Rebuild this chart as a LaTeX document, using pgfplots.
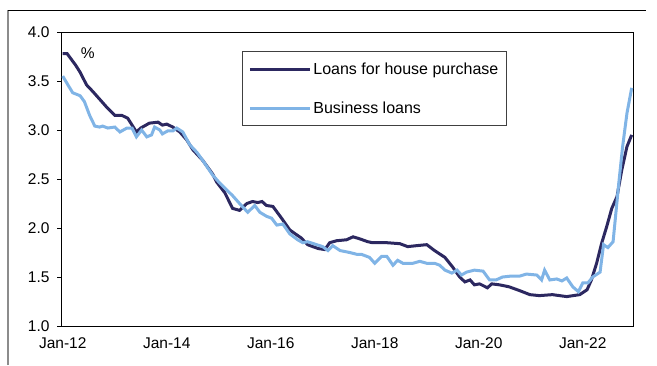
\documentclass[border=0pt]{standalone}
\usepackage{fontspec}
\setmainfont{Liberation Sans}
\usepackage{pgfplots}
\pgfplotsset{compat=1.18}
\definecolor{house}{RGB}{44,40,96}
\definecolor{biz}{RGB}{128,180,230}
\pgfplotstableread{
m v
0 3.78
1 3.78
2 3.72
3 3.66
4 3.59
5.5 3.46
7 3.39
8 3.34
10 3.24
12 3.15
13.6 3.15
15 3.12
16 3.05
17 2.98
18 3.02
20 3.07
22 3.08
23 3.05
24 3.06
25.4 3.03
27 2.98
28.6 2.90
30 2.80
32.3 2.69
34.6 2.55
35.5 2.47
37.4 2.36
39.2 2.20
40.8 2.18
42.5 2.25
43.8 2.27
45 2.26
46 2.27
47 2.23
48.5 2.22
49.5 2.16
50.5 2.10
52.4 1.98
54 1.93
55 1.90
56.5 1.83
57.7 1.81
59 1.79
60.5 1.78
61.6 1.85
63.2 1.87
65.5 1.88
67 1.91
68.5 1.89
70.4 1.86
71.5 1.85
74.8 1.85
77.8 1.84
79.6 1.81
81.7 1.82
84 1.83
85.8 1.77
88.2 1.70
90 1.60
91.6 1.50
92.8 1.45
94 1.47
95 1.42
96.2 1.43
98 1.39
99 1.43
100.8 1.42
103 1.40
105.5 1.36
107.8 1.32
110 1.31
113 1.32
116.3 1.30
119.3 1.32
121 1.37
122 1.47
123.2 1.64
124.4 1.85
125.5 2.01
126.7 2.20
127.9 2.32
129 2.59
130.2 2.83
131.3 2.95
}\house
\pgfplotstableread{
m v
0 3.55
1.2 3.46
2.3 3.38
4 3.35
5 3.29
6.2 3.15
7.4 3.04
8.5 3.03
9.2 3.04
10.4 3.02
12 3.03
13.2 2.98
14.8 3.02
16 3.02
17 2.93
18.2 3.00
19.4 2.93
20.5 2.95
21.2 3.03
22.4 3.00
23 2.96
24.2 2.99
25.4 2.99
26.3 3.02
27.7 2.98
29.3 2.85
31 2.77
32.3 2.69
34.6 2.54
36.2 2.46
37.8 2.39
39.2 2.33
40.8 2.25
42.7 2.16
44.3 2.23
45.5 2.16
47 2.12
48.2 2.10
49.4 2.03
50.8 2.04
52.4 1.94
54.2 1.88
55.4 1.85
56.5 1.86
58.6 1.83
60 1.81
61.2 1.77
62.3 1.82
64 1.77
66.2 1.75
68 1.73
69 1.73
70.8 1.70
72 1.64
73.6 1.71
74.8 1.71
76.2 1.62
77.3 1.67
78.5 1.64
80.8 1.64
82.4 1.66
84 1.64
85.8 1.64
87 1.62
88.2 1.57
89.8 1.54
91 1.57
92 1.52
93.2 1.55
95 1.57
97 1.56
98.5 1.47
100 1.47
101.5 1.50
103.6 1.51
105.5 1.51
107 1.53
109.4 1.52
110.5 1.47
111.2 1.57
112.4 1.47
114 1.48
115.2 1.46
116.3 1.49
117.7 1.40
119 1.35
120 1.44
121.2 1.44
122.3 1.50
124 1.55
124.8 1.83
125.8 1.80
127 1.86
128.3 2.45
129.2 2.83
130.2 3.17
131.3 3.43
}\biz
\begin{document}
\begin{tikzpicture}[x=1bp,y=1bp]
\useasboundingbox (0,0) rectangle (657,365);
\draw[black!45, line width=2bp] (8,0) -- (8,355);
\draw[black, line width=0.8bp] (8,355) -- (646,355);
\begin{axis}[
  at={(61bp,39bp)}, anchor=south west,
  scale only axis, width=572bp, height=294bp,
  xmin=-0.4, xmax=131.6, ymin=1, ymax=4,
  xtick={0,24,...,120},
  xticklabels={Jan-12,Jan-14,Jan-16,Jan-18,Jan-20,Jan-22},
  ytick={1,1.5,...,4},
  yticklabel style={/pgf/number format/fixed, /pgf/number format/fixed zerofill, /pgf/number format/precision=1, xshift=-4bp},
  /pgf/number format/assume math mode=true,
  ticklabel style={font=\fontsize{15.5bp}{18bp}\selectfont},
  xticklabel style={yshift=-4bp},
  axis line style={line width=0.9bp},
  tick align=outside,
  xtick pos=left, ytick pos=left,
  xtick style={draw=none},
  ytick style={line width=0.8bp, black},
  major tick length=4bp,
  legend style={at={(0.3164,0.935)}, anchor=north west, draw=black!75,
    line width=0.8bp, fill=white, inner xsep=6bp, inner ysep=9bp,
    row sep=22bp, font=\fontsize{16bp}{19bp}\selectfont,
    nodes={inner sep=2bp}},
  legend cell align=left,
  legend image code/.code={\path (0bp,0bp) -- (60bp,0bp); \draw[#1, line width=3bp] (5bp,0bp) -- (57bp,0bp);},
]
\addplot[house, line width=3bp] table[x=m, y=v] {\house};
\addlegendentry{Loans for house purchase}
\addplot[biz, line width=3bp] table[x=m, y=v] {\biz};
\addlegendentry{Business loans}
\node[font=\fontsize{15.5bp}{18bp}\selectfont] at (rel axis cs:0.047,0.929) {\%};
\end{axis}
\end{tikzpicture}
\end{document}
